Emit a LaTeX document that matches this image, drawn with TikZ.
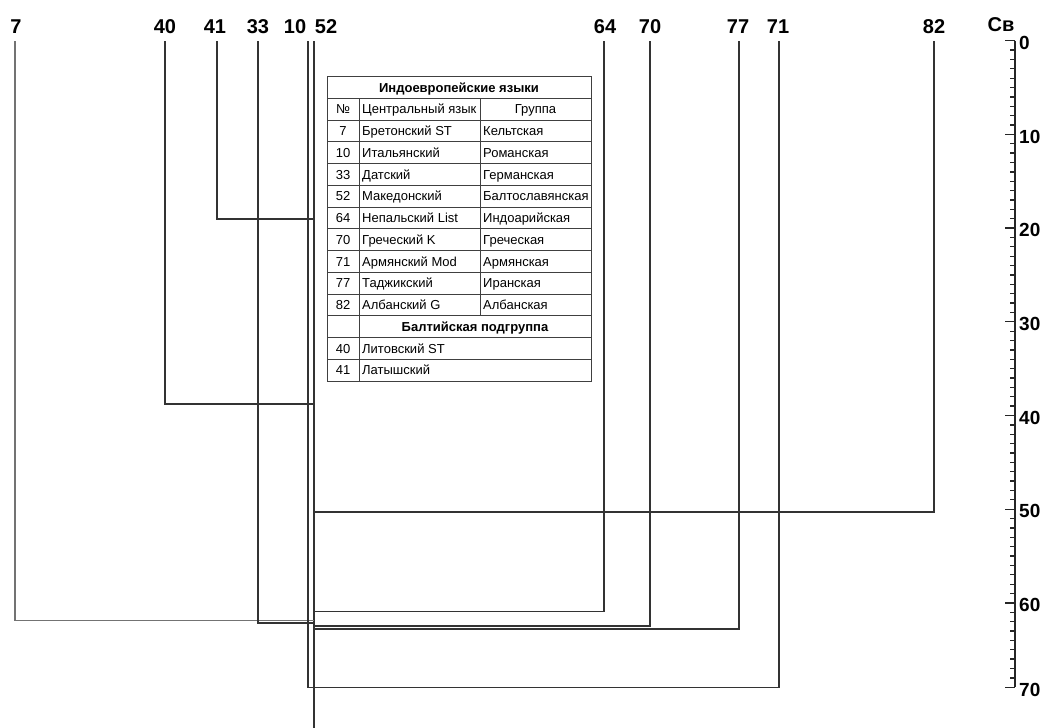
\documentclass[tikz,border=0pt]{standalone}
\usepackage{fontspec}
\setmainfont{Liberation Sans}
\begin{document}
\begin{tikzpicture}[
x=1pt, y=-1pt,
leaf/.style={font=\fontsize{20}{20}\selectfont\bfseries, inner sep=0pt, text height=14.3pt, text depth=0pt},
scalelbl/.style={font=\fontsize{19}{19}\selectfont\bfseries, inner sep=0pt, text height=13.6pt, text depth=0pt, anchor=west},
cell/.style={font=\fontsize{13}{14}\selectfont, inner sep=0pt, text height=9.3pt, text depth=0pt},
branch/.style={draw=black!80, line width=1.4pt},
grid/.style={draw=black!75, line width=1pt},
tick/.style={draw=black!85, line width=1.3pt}
]
\useasboundingbox (0,0) rectangle (1047,728);

% leaves
\foreach \n/\x/\lx in {7/15/16, 40/165/165, 41/217/215, 33/258/258, 10/308/295, 52/314/326,
  64/604/605, 70/650/650, 77/739/738, 71/779/778, 82/934/934} {
  \node[leaf] (n\n) at (\lx,26.5) {\n};
  \coordinate (t\n) at (\x,41);
}

% joins on the trunk
\coordinate (j41) at (314,219);
\coordinate (j40) at (314,404);
\coordinate (j82) at (314,512);
\coordinate (j64) at (314,611.7);
\coordinate (j7) at (314,620.7);
\coordinate (j33) at (314,623);
\coordinate (j70) at (314,626);
\coordinate (j77) at (314,629);
\coordinate (j71) at (779,687.5);
\coordinate (root) at (314,728);

\draw[branch] (t52) -- (root);
\draw[branch] (t41) |- (j41);
\draw[branch] (t40) |- (j40);
\draw[branch] (t82) |- (j82);
\draw[branch] (t64) |- (j64);
\draw[branch, draw=black!55] (t7) |- (j7);
\draw[branch] (t33) |- (j33);
\draw[branch] (t70) |- (j70);
\draw[branch] (t77) |- (j77);
\draw[branch] (t10) |- (j71) -- (t71);

% table
\draw[grid, fill=white] (327,76.5) rectangle (591,381);
\foreach \k in {1,...,13}
  \draw[grid] (327,{76.5+21.75*\k}) -- (591,{76.5+21.75*\k});
\draw[grid] (359,98.25) -- (359,381);
\draw[grid] (480,98.25) -- (480,315.75);

\node[cell, font=\fontsize{13}{14}\selectfont\bfseries] (head) at (459,{76.5+21.75*0.5}) {Индоевропейские языки};
\node[cell] (colnum) at (343,{76.5+21.75*1.5}) {№};
\node[cell, anchor=west] (collang) at (362,{76.5+21.75*1.5}) {Центральный язык};
\node[cell] (colgrp) at (535.5,{76.5+21.75*1.5}) {Группа};
\foreach \num/\lang/\grp [count=\k from 2] in {7/Бретонский ST/Кельтская, 10/Итальянский/Романская,
  33/Датский/Германская, 52/Македонский/Балтославянская, 64/Непальский List/Индоарийская,
  70/Греческий K/Греческая, 71/Армянский Mod/Армянская, 77/Таджикский/Иранская,
  82/Албанский G/Албанская} {
  \node[cell] (num\num) at (343,{76.5+21.75*(\k+0.5)}) {\num};
  \node[cell, anchor=west] (lang\num) at (362,{76.5+21.75*(\k+0.5)}) {\lang};
  \node[cell, anchor=west] (grp\num) at (483,{76.5+21.75*(\k+0.5)}) {\grp};
}
\node[cell, font=\fontsize{13}{14}\selectfont\bfseries] (baltic) at (475,{76.5+21.75*11.5}) {Балтийская подгруппа};
\node[cell] (num40) at (343,{76.5+21.75*12.5}) {40};
\node[cell, anchor=west] (lang40) at (362,{76.5+21.75*12.5}) {Литовский ST};
\node[cell] (num41) at (343,{76.5+21.75*13.5}) {41};
\node[cell, anchor=west] (lang41) at (362,{76.5+21.75*13.5}) {Латышский};

% scale
\node[leaf] (unit) at (1001,24) {Св};
\draw[tick] (1015,40.7) -- (1015,687.2);
\foreach \u in {1,...,68}
  \draw[tick] (1010,{40.7+9.37*\u}) -- (1015,{40.7+9.37*\u});
\foreach \u in {0,10,...,60} {
  \draw[tick] (1005,{40.7+9.37*\u}) -- (1015,{40.7+9.37*\u});
  \node[scalelbl] (s\u) at (1019,{42.5+9.37*\u}) {\u};
}
\draw[tick] (1005,687.2) -- (1015,687.2);
\node[scalelbl] (s70) at (1019,689.5) {70};
\end{tikzpicture}
\end{document}
